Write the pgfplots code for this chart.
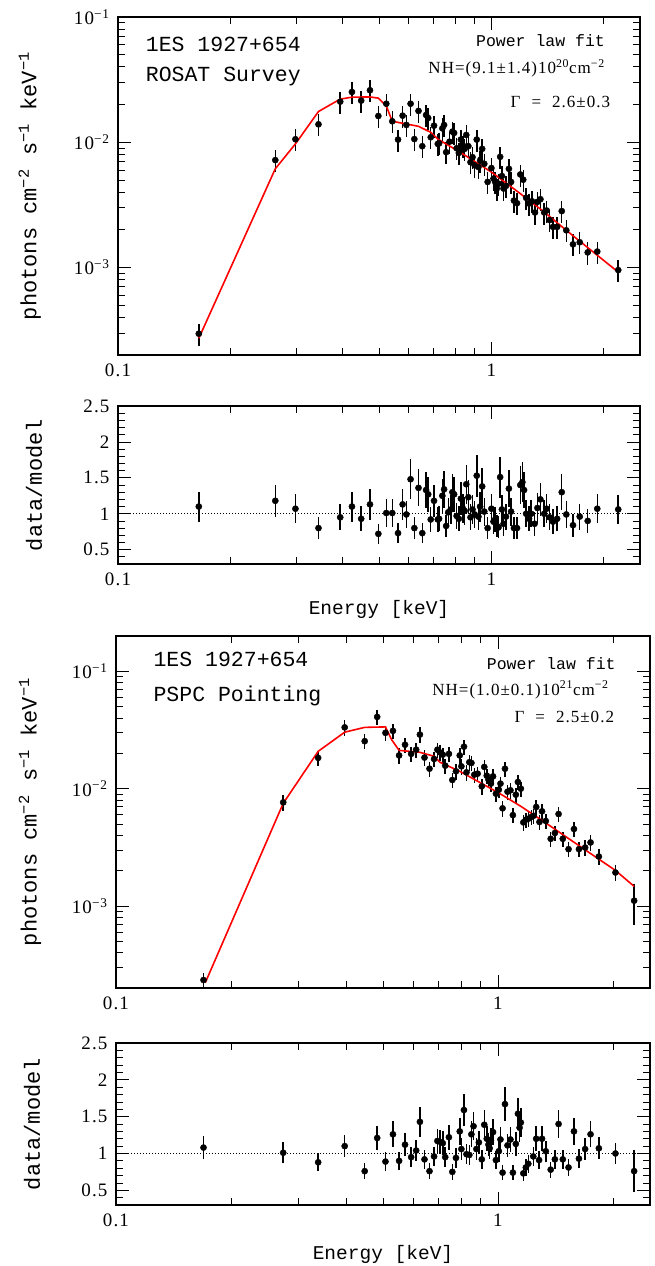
\documentclass[border=0pt]{standalone}
\usepackage{fontspec}
\setmainfont[LetterSpace=6]{Liberation Serif}
\newfontfamily\monofont{Liberation Mono}
\usepackage{pgfplots}
\pgfplotsset{compat=1.18}
\begin{document}
\begin{tikzpicture}
\useasboundingbox (0,0) rectangle (654pt,-1266pt);
% ---------------- Panel 1: ROSAT Survey spectrum
\begin{axis}[at={(118pt,-17pt)}, anchor=north west, width=522pt, height=338pt,
  scale only axis, xmode=log, ymode=log, xmin=0.1, xmax=2.5, ymin=2e-4, ymax=0.1,
  xtick={0.1,1}, xticklabels={0.1,1},
  minor xtick={0.2,0.3,0.4,0.5,0.6,0.7,0.8,0.9,2},
  ytick={1e-3,1e-2,1e-1},
  yticklabels={10\textsuperscript{−3},10\textsuperscript{−2},10\textsuperscript{−1}},
  minor ytick={2e-4,3e-4,4e-4,5e-4,6e-4,7e-4,8e-4,9e-4,2e-3,3e-3,4e-3,5e-3,6e-3,7e-3,8e-3,9e-3,2e-2,3e-2,4e-2,5e-2,6e-2,7e-2,8e-2,9e-2},
  tick align=inside, major tick length=13pt, minor tick length=7pt,
  tick style={black, line width=0.8pt},
  axis line style={line width=1.1pt},
  tick label style={font=\fontsize{19}{19}\selectfont},
  xticklabel style={yshift=-5pt}, yticklabel style={xshift=-5pt},
  label style={font=\monofont\fontsize{22}{22}\selectfont},
  ylabel={photons cm\textsuperscript{−2} s\textsuperscript{−1} keV\textsuperscript{−1}},
  ylabel style={at={(axis description cs:-0.169,0.5)}, anchor=center}]
\addplot[only marks, mark=*, mark size=3.1pt, black,
  error bars/.cd, y dir=both, y fixed relative=0.2, error mark=none,
  error bar style={line width=1.5pt, black}] table {
x y
0.1646 2.96e-4
0.2638 7.2e-3
0.2987 1.057e-2
0.3443 1.39e-2
0.3937 2.11e-2
0.4232 2.52e-2
0.448 2.15e-2
0.473 2.60e-2
0.498 1.62e-2
0.523 2.03e-2
0.5427 1.47e-2
0.5623 1.05e-2
0.5785 1.63e-2
0.592 1.374e-2
0.6075 2.03e-2
0.6218 1.06e-2
0.638 1.78e-2
0.653 9.3e-3
0.6685 1.65e-2
0.6773 1.56e-2
0.688 1.096e-2
0.702 1.356e-2
0.7186 9.7e-3
0.7243 9.8e-3
0.739 1.29e-2
0.747 1.374e-2
0.7567 8.33e-3
0.7724 1.01e-2
0.7865 1.216e-2
0.7947 1.186e-2
0.807 8.96e-3
0.818 8.22e-3
0.8284 1.05e-2
0.839 9.4e-3
0.848 8.86e-3
0.8564 1.143e-2
0.8676 9.3e-3
0.879 6.93e-3
0.890 7.6e-3
0.902 6.53e-3
0.9136 1.05e-2
0.923 6.34e-3
0.9327 7.15e-3
0.9447 8.86e-3
0.957 6.73e-3
0.977 4.82e-3
1.0 6.22e-3
1.013 5.12e-3
1.0235 4.82e-3
1.034 4.27e-3
1.045 4.67e-3
1.0556 7.65e-3
1.067 5.37e-3
1.0777 4.27e-3
1.094 4.48e-3
1.114 6.14e-3
1.129 4.82e-3
1.149 3.42e-3
1.171 3.26e-3
1.195 5.53e-3
1.217 5.02e-3
1.239 3.60e-3
1.261 3.24e-3
1.284 3.38e-3
1.308 2.75e-3
1.328 3.34e-3
1.353 3.51e-3
1.385 2.75e-3
1.406 2.85e-3
1.432 2.39e-3
1.462 2.11e-3
1.4997 2.11e-3
1.543 2.82e-3
1.587 1.98e-3
1.654 1.53e-3
1.724 1.59e-3
1.811 1.32e-3
1.921 1.34e-3
2.186 9.53e-4
};
\addplot[red, line width=1.6pt, no marks] coordinates {
(0.1646,2.72e-4) (0.2638,6.14e-3) (0.2987,9.7e-3) (0.3443,1.76e-2) (0.3937,2.21e-2)
(0.4232,2.29e-2) (0.473,2.30e-2) (0.498,2.25e-2) (0.523,1.95e-2) (0.5427,1.47e-2)
(0.5623,1.44e-2) (0.638,1.34e-2) (0.688,1.2e-2) (0.7186,1.06e-2) (0.824,8.33e-3)
(1.0,5.78e-3) (1.18,4.0e-3) (1.384,2.78e-3) (1.587,1.98e-3) (2.186,9.18e-4)
};
\node[anchor=base west, inner sep=0pt, font=\monofont\fontsize{21.5}{21.5}\selectfont] at (rel axis cs:0.053,0.897) {1ES 1927+654};
\node[anchor=base west, inner sep=0pt, font=\monofont\fontsize{21.5}{21.5}\selectfont] at (rel axis cs:0.053,0.809) {ROSAT Survey};
\node[anchor=east, inner sep=0pt, font=\monofont\fontsize{16.5}{16.5}\selectfont] at (rel axis cs:0.933,0.930) {Power law fit};
\node[anchor=east, inner sep=0pt, font=\fontsize{17}{17}\selectfont] at (rel axis cs:0.933,0.849) {NH=(9.1±1.4)10\textsuperscript{20}cm\textsuperscript{−2}};
\node[anchor=east, inner sep=0pt, font=\fontsize{17}{17}\selectfont] at (rel axis cs:0.943,0.749) {Γ\hspace{11pt}=\hspace{11pt}2.6±0.3};
\end{axis}
% ---------------- Panel 2: residuals
\begin{axis}[at={(118pt,-406pt)}, anchor=north west, width=522pt, height=158pt,
  scale only axis, xmode=log, xmin=0.1, xmax=2.5, ymin=0.3, ymax=2.5,
  xtick={0.1,1}, xticklabels={0.1,1},
  minor xtick={0.2,0.3,0.4,0.5,0.6,0.7,0.8,0.9,2},
  ytick={0.5,1,1.5,2,2.5}, yticklabels={0.5,1,1.5,2,2.5},
  minor ytick={0.3,0.4,0.6,0.7,0.8,0.9,1.1,1.2,1.3,1.4,1.6,1.7,1.8,1.9,2.1,2.2,2.3,2.4},
  tick align=inside, major tick length=13pt, minor tick length=7pt,
  tick style={black, line width=0.8pt},
  axis line style={line width=1.1pt},
  tick label style={font=\fontsize{19}{19}\selectfont},
  xticklabel style={yshift=-5pt}, yticklabel style={xshift=-5pt},
  xlabel style={font=\monofont\fontsize{19.5}{19.5}\selectfont},
  ylabel style={font=\monofont\fontsize{22}{22}\selectfont},
  ylabel={data/model}, xlabel={Energy [keV]},
  ylabel style={at={(axis description cs:-0.161,0.5)}, anchor=center},
  xlabel style={at={(axis description cs:0.5,-0.29)}, anchor=center}]
\addplot[black, dotted, line width=1pt] coordinates {(0.1,1) (2.5,1)};
\addplot[only marks, mark=*, mark size=3.1pt, black,
  error bars/.cd, y dir=both, y fixed relative=0.19, error mark=none,
  error bar style={line width=1.5pt, black}] table {
x y
0.1646 1.10
0.2638 1.18
0.2987 1.07
0.3443 0.80
0.3937 0.95
0.4232 1.10
0.448 0.93
0.473 1.13
0.498 0.72
0.523 1.01
0.5427 1.01
0.5623 0.73
0.5785 1.13
0.592 0.99
0.6075 1.48
0.6218 0.80
0.638 1.36
0.653 0.73
0.6685 1.33
0.6773 1.27
0.688 0.92
0.702 1.18
0.7186 0.92
0.7243 0.93
0.739 1.25
0.747 1.34
0.7567 0.83
0.7665 1.02
0.7786 1.06
0.7865 1.30
0.7947 1.27
0.807 0.97
0.818 0.93
0.8284 1.21
0.839 1.07
0.848 1.04
0.8564 1.41
0.8676 1.23
0.879 0.95
0.890 1.06
0.902 0.99
0.9136 1.53
0.923 0.96
0.9327 1.10
0.9447 1.38
0.957 1.03
0.977 0.80
1.0 1.07
1.013 0.89
1.0235 0.92
1.034 0.83
1.045 0.81
1.0556 1.51
1.067 1.06
1.0777 0.86
1.094 0.96
1.114 1.35
1.129 1.03
1.149 0.80
1.171 0.80
1.195 1.40
1.2106 1.44
1.223 1.33
1.239 1.00
1.261 0.93
1.278 1.00
1.305 0.86
1.328 1.08
1.353 1.20
1.385 1.00
1.406 1.07
1.432 0.95
1.462 0.89
1.4997 0.93
1.543 1.30
1.587 0.99
1.654 0.84
1.724 0.96
1.811 0.90
1.921 1.07
2.186 1.06
};
\end{axis}
% ---------------- Panel 3: PSPC pointing spectrum
\begin{axis}[at={(116pt,-636pt)}, anchor=north west, width=534pt, height=352pt,
  scale only axis, xmode=log, ymode=log, xmin=0.1, xmax=2.5, ymin=2e-4, ymax=0.2,
  xtick={0.1,1}, xticklabels={0.1,1},
  minor xtick={0.2,0.3,0.4,0.5,0.6,0.7,0.8,0.9,2},
  ytick={1e-3,1e-2,1e-1},
  yticklabels={10\textsuperscript{−3},10\textsuperscript{−2},10\textsuperscript{−1}},
  minor ytick={2e-4,3e-4,4e-4,5e-4,6e-4,7e-4,8e-4,9e-4,2e-3,3e-3,4e-3,5e-3,6e-3,7e-3,8e-3,9e-3,2e-2,3e-2,4e-2,5e-2,6e-2,7e-2,8e-2,9e-2},
  tick align=inside, major tick length=13pt, minor tick length=7pt,
  tick style={black, line width=0.8pt},
  axis line style={line width=1.1pt},
  tick label style={font=\fontsize{19}{19}\selectfont},
  xticklabel style={yshift=-5pt}, yticklabel style={xshift=-5pt},
  label style={font=\monofont\fontsize{22}{22}\selectfont},
  ylabel={photons cm\textsuperscript{−2} s\textsuperscript{−1} keV\textsuperscript{−1}},
  ylabel style={at={(axis description cs:-0.161,0.5)}, anchor=center}]
\addplot[only marks, mark=*, mark size=3.1pt, black,
  error bars/.cd, y dir=both, y fixed relative=0.15, error mark=none,
  error bar style={line width=1.5pt, black}] table {
x y
0.1695 2.34e-4
0.274 7.64e-3
0.3383 1.83e-2
0.397 3.33e-2
0.4478 2.54e-2
0.4828 4.09e-2
0.5075 2.99e-2
0.5309 3.11e-2
0.551 1.92e-2
0.571 2.37e-2
0.5926 1.98e-2
0.6107 2.15e-2
0.6246 2.89e-2
0.6421 1.84e-2
0.6618 1.48e-2
0.6802 1.79e-2
0.694 2.15e-2
0.7045 2.04e-2
0.717 1.95e-2
0.7277 1.57e-2
0.744 1.98e-2
0.7595 1.186e-2
0.7764 1.406e-2
0.7943 1.92e-2
0.802 1.55e-2
0.8146 2.28e-2
0.827 1.377e-2
0.8414 1.68e-2
0.852 1.656e-2
0.867 1.316e-2
0.8846 1.342e-2
0.907 1.047e-2
0.9207 1.532e-2
0.9347 1.291e-2
0.9441 1.194e-2
0.9583 1.104e-2
0.9705 1.273e-2
0.9876 9.06e-3
1.005 9.8e-3
1.015 1.104e-2
1.028 6.8e-3
1.043 1.48e-2
1.059 9.42e-3
1.078 9.68e-3
1.094 5.95e-3
1.1135 8.89e-3
1.1276 1.14e-2
1.1476 1.0e-2
1.165 5.16e-3
1.1826 5.44e-3
1.2005 5.54e-3
1.222 5.73e-3
1.240 5.88e-3
1.259 6.98e-3
1.284 5.2e-3
1.304 6.41e-3
1.334 5.3e-3
1.374 3.74e-3
1.409 4.19e-3
1.441 6.08e-3
1.478 3.74e-3
1.530 3.05e-3
1.581 4.53e-3
1.629 3.05e-3
1.691 3.15e-3
1.747 3.48e-3
1.837 2.64e-3
2.030 1.93e-3
};
\addplot[only marks, mark=*, mark size=3.1pt, black,
  error bars/.cd, y dir=both, y fixed relative=0.38, error mark=none,
  error bar style={line width=1.5pt, black}] coordinates {(2.272,1.11e-3)};
\addplot[red, line width=1.6pt, no marks] coordinates {
(0.1713,2.22e-4) (0.274,7.5e-3) (0.3383,2.08e-2) (0.397,3.03e-2) (0.4478,3.33e-2)
(0.5075,3.36e-2) (0.5265,2.62e-2) (0.551,2.12e-2) (0.6246,2.04e-2) (0.6802,1.89e-2)
(0.7045,1.68e-2) (0.7943,1.406e-2) (1.005,9.19e-3) (1.1476,7.07e-3) (1.334,5.1e-3)
(1.691,3.01e-3) (2.030,2.01e-3) (2.272,1.47e-3)
};
\node[anchor=base west, inner sep=0pt, font=\monofont\fontsize{21.5}{21.5}\selectfont] at (rel axis cs:0.070,0.913) {1ES 1927+654};
\node[anchor=base west, inner sep=0pt, font=\monofont\fontsize{21.5}{21.5}\selectfont] at (rel axis cs:0.070,0.813) {PSPC Pointing};
\node[anchor=east, inner sep=0pt, font=\monofont\fontsize{16.5}{16.5}\selectfont] at (rel axis cs:0.936,0.923) {Power law fit};
\node[anchor=east, inner sep=0pt, font=\fontsize{17}{17}\selectfont] at (rel axis cs:0.923,0.847) {NH=(1.0±0.1)10\textsuperscript{21}cm\textsuperscript{−2}};
\node[anchor=east, inner sep=0pt, font=\fontsize{17}{17}\selectfont] at (rel axis cs:0.933,0.770) {Γ\hspace{11pt}=\hspace{11pt}2.5±0.2};
\end{axis}
% ---------------- Panel 4: residuals
\begin{axis}[at={(116pt,-1043pt)}, anchor=north west, width=534pt, height=162pt,
  scale only axis, xmode=log, xmin=0.1, xmax=2.5, ymin=0.3, ymax=2.5,
  xtick={0.1,1}, xticklabels={0.1,1},
  minor xtick={0.2,0.3,0.4,0.5,0.6,0.7,0.8,0.9,2},
  ytick={0.5,1,1.5,2,2.5}, yticklabels={0.5,1,1.5,2,2.5},
  minor ytick={0.3,0.4,0.6,0.7,0.8,0.9,1.1,1.2,1.3,1.4,1.6,1.7,1.8,1.9,2.1,2.2,2.3,2.4},
  tick align=inside, major tick length=13pt, minor tick length=7pt,
  tick style={black, line width=0.8pt},
  axis line style={line width=1.1pt},
  tick label style={font=\fontsize{19}{19}\selectfont},
  xticklabel style={yshift=-5pt}, yticklabel style={xshift=-5pt},
  xlabel style={font=\monofont\fontsize{19.5}{19.5}\selectfont},
  ylabel style={font=\monofont\fontsize{22}{22}\selectfont},
  ylabel={data/model}, xlabel={Energy [keV]},
  ylabel style={at={(axis description cs:-0.157,0.5)}, anchor=center},
  xlabel style={at={(axis description cs:0.5,-0.305)}, anchor=center}]
\addplot[black, dotted, line width=1pt] coordinates {(0.1,1) (2.5,1)};
\addplot[only marks, mark=*, mark size=3.1pt, black,
  error bars/.cd, y dir=both, y fixed relative=0.14, error mark=none,
  error bar style={line width=1.5pt, black}] table {
x y
0.1695 1.08
0.274 1.01
0.3383 0.88
0.397 1.10
0.4478 0.76
0.4828 1.21
0.5075 0.89
0.5309 1.26
0.551 0.90
0.571 1.12
0.5926 0.95
0.6107 1.04
0.6246 1.43
0.6421 0.92
0.6618 0.76
0.6802 0.96
0.694 1.17
0.7045 1.16
0.717 1.14
0.7277 0.95
0.744 1.22
0.7595 0.75
0.7764 0.94
0.7943 1.30
0.802 1.06
0.8146 1.59
0.827 0.99
0.8414 0.98
0.852 1.26
0.863 1.37
0.878 1.06
0.891 1.15
0.907 0.92
0.9207 1.39
0.9347 1.20
0.9441 1.12
0.951 1.07
0.9583 1.18
0.9705 1.29
0.9876 0.91
1.005 1.03
1.015 1.19
1.028 0.74
1.043 1.67
1.059 1.11
1.078 1.19
1.094 0.74
1.1135 1.13
1.1276 1.54
1.139 1.35
1.1476 1.42
1.165 0.73
1.1826 0.81
1.2005 0.86
1.237 0.96
1.259 1.20
1.281 0.91
1.304 1.20
1.334 1.03
1.374 0.78
1.409 0.92
1.441 1.40
1.478 0.92
1.530 0.81
1.581 1.30
1.629 0.93
1.691 1.06
1.747 1.26
1.837 1.07
2.030 1.00
};
\addplot[only marks, mark=*, mark size=3.1pt, black,
  error bars/.cd, y dir=both, y fixed relative=0.38, error mark=none,
  error bar style={line width=1.5pt, black}] coordinates {(2.272,0.76)};
\end{axis}
\end{tikzpicture}
\end{document}
